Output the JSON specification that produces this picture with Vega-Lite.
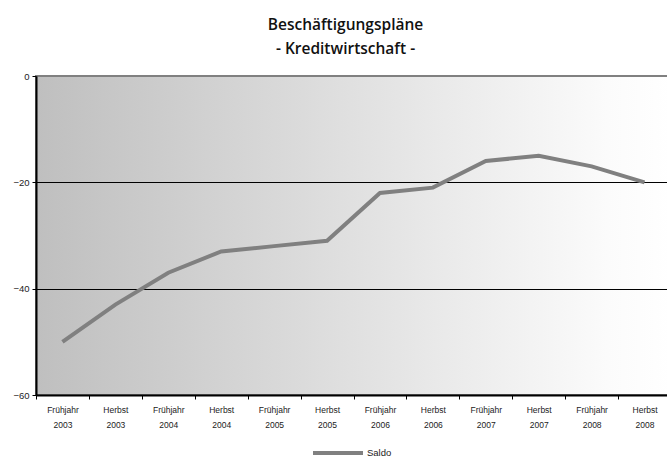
{
  "$schema": "https://vega.github.io/schema/vega-lite/v6.json",
  "autosize": "none",
  "width": 635,
  "height": 319,
  "padding": {"left": 36, "top": 76, "right": 0, "bottom": 72},
  "background": "white",
  "config": {
    "view": {
      "fill": {"gradient": "linear", "x1": 0, "x2": 1, "y1": 0, "y2": 0, "stops": [{"offset": 0, "color": "#bfbfbf"}, {"offset": 0.9, "color": "#fbfbfb"}, {"offset": 1, "color": "#ffffff"}]},
      "stroke": "#808080",
      "strokeWidth": 2
    },
    "font": "Liberation Sans"
  },
  "title": {
    "text": ["Beschäftigungspläne", "- Kreditwirtschaft -"],
    "font": "Open Sans",
    "fontSize": 15.5,
    "fontWeight": 600,
    "lineHeight": 24,
    "color": "#111111",
    "anchor": "middle",
    "dx": -8,
    "offset": 14
  },
  "data": {
    "values": [
      {"label": "Frühjahr 2003", "saldo": -50, "series": "Saldo"},
      {"label": "Herbst 2003", "saldo": -43, "series": "Saldo"},
      {"label": "Frühjahr 2004", "saldo": -37, "series": "Saldo"},
      {"label": "Herbst 2004", "saldo": -33, "series": "Saldo"},
      {"label": "Frühjahr 2005", "saldo": -32, "series": "Saldo"},
      {"label": "Herbst 2005", "saldo": -31, "series": "Saldo"},
      {"label": "Frühjahr 2006", "saldo": -22, "series": "Saldo"},
      {"label": "Herbst 2006", "saldo": -21, "series": "Saldo"},
      {"label": "Frühjahr 2007", "saldo": -16, "series": "Saldo"},
      {"label": "Herbst 2007", "saldo": -15, "series": "Saldo"},
      {"label": "Frühjahr 2008", "saldo": -17, "series": "Saldo"},
      {"label": "Herbst 2008", "saldo": -20, "series": "Saldo"}
    ]
  },
  "mark": {"type": "line", "strokeWidth": 4, "clip": false},
  "encoding": {
    "x": {
      "field": "label",
      "type": "nominal",
      "sort": null,
      "scale": {"type": "band", "paddingInner": 0, "paddingOuter": 0},
      "axis": {
        "title": null,
        "labelAngle": 0,
        "labelExpr": "split(datum.label, ' ')",
        "labelFontSize": 8.5,
        "labelColor": "#222222",
        "labelLineHeight": 15,
        "labelPadding": 6,
        "labelBaseline": "top",
        "tickBand": "extent",
        "ticks": true,
        "tickSize": 4,
        "tickColor": "#000000",
        "domainColor": "#000000",
        "domainWidth": 2,
        "grid": false
      }
    },
    "y": {
      "field": "saldo",
      "type": "quantitative",
      "scale": {"domain": [-60, 0], "nice": false, "zero": false},
      "axis": {
        "title": null,
        "values": [0, -20, -40, -60],
        "labelFontSize": 9.5,
        "labelColor": "#222222",
        "labelPadding": 3,
        "tickSize": 4,
        "tickColor": "#000000",
        "domainColor": "#000000",
        "domainWidth": 2,
        "grid": true,
        "gridColor": {"condition": {"test": "datum.value == 0", "value": "#808080"}, "value": "#000000"},
        "gridWidth": 1,
        "gridOpacity": 1
      }
    },
    "color": {
      "field": "series",
      "type": "nominal",
      "scale": {"range": ["#808080"]},
      "legend": {
        "title": null,
        "orient": "none",
        "legendX": 275,
        "legendY": 350,
        "direction": "horizontal",
        "symbolType": "stroke",
        "symbolStrokeWidth": 4,
        "symbolSize": 2500,
        "labelFontSize": 9.5,
        "labelColor": "#222222",
        "labelOffset": 2,
        "padding": 0
      }
    }
  }
}
